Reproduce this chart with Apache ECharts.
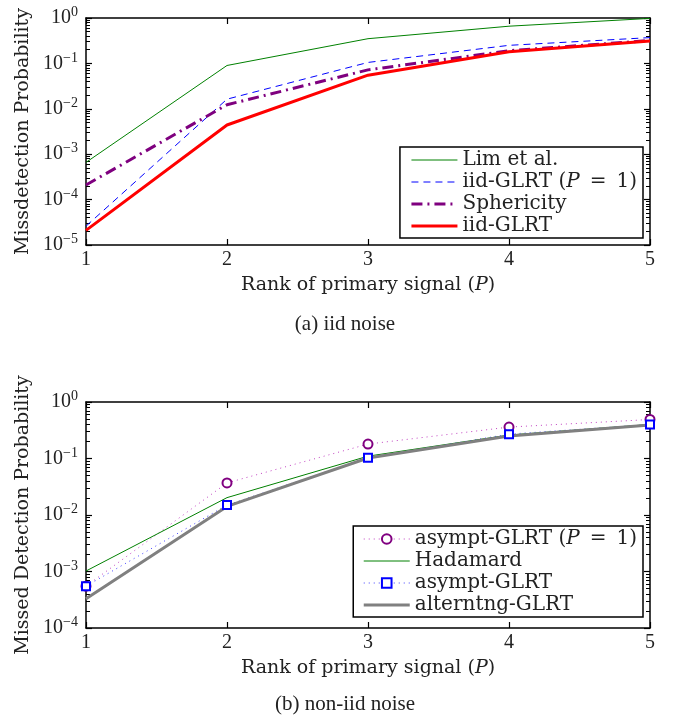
<!DOCTYPE html>
<html>
<head>
<meta charset="utf-8">
<script src="https://cdn.jsdelivr.net/npm/echarts@6/dist/echarts.min.js"></script>
<style>
html, body { margin: 0; padding: 0; background: #fff; }
#chart { width: 677px; height: 720px; }
</style>
</head>
<body>
<div id="chart"></div>
<script>
// rank of the primary signal
const ranks = [1, 2, 3, 4, 5];

// (a) iid noise
const limEtAl    = [6.6e-4, 0.090, 0.35, 0.66, 0.98];
const iidGlrtP1  = [2.6e-5, 0.0163, 0.105, 0.25, 0.37];
const sphericity = [2.1e-4, 0.0123, 0.072, 0.19, 0.32];
const iidGlrt    = [2.1e-5, 4.4e-3, 0.055, 0.18, 0.31];

// (b) non-iid noise
const asymptP1   = [5.5e-4, 0.037, 0.18, 0.36, 0.49];
const hadamard   = [1.02e-3, 0.0203, 0.11, 0.26, 0.40];
const asympt     = [5.5e-4, 0.015, 0.103, 0.27, 0.40];
const alterntng  = [3.3e-4, 0.0142, 0.102, 0.25, 0.39];

const NUM = 'Liberation Serif';   // digits
const TXT = 'DejaVu Serif';       // wide serif, closer to the LaTeX text

function pairs(vals) {
    return ranks.map((r, i) => [r, vals[i]]);
}

const rich19 = {
    n: { fontFamily: TXT, fontSize: 19, color: '#222' },
    i: { fontFamily: TXT, fontSize: 19, fontStyle: 'italic', color: '#222' }
};
const rich20 = {
    n: { fontFamily: TXT, fontSize: 20, color: '#222' },
    i: { fontFamily: TXT, fontSize: 20, fontStyle: 'italic', color: '#222' }
};
const richExp = {
    b: { fontFamily: NUM, fontSize: 20, color: '#222' },
    s: { fontFamily: NUM, fontSize: 14, color: '#222', padding: [0, 0, 11, 0] }
};

function expLabel(v) {
    const e = Math.round(Math.log10(v));
    return '{b|10}{s|' + (e < 0 ? '\u2212' + (-e) : e) + '}';
}

const grids = [
    { left: 86, top: 18, width: 564, height: 227 },
    { left: 86, top: 402, width: 564, height: 226 }
];

const frameLine = { onZero: false, lineStyle: { color: '#000', width: 1.5 } };
const majorTick = { inside: true, length: 6, lineStyle: { color: '#000', width: 1.2 } };
const minorTick = { show: true, splitNumber: 9, length: 4, lineStyle: { color: '#000', width: 1 } };

function xAxes(gi) {
    return [{
        gridIndex: gi, type: 'value', min: 1, max: 5, interval: 1, position: 'bottom',
        name: '{n|Rank of primary signal (}{i|P}{n|)}',
        nameLocation: 'middle', nameGap: 31,
        nameTextStyle: { rich: rich19 },
        axisLine: frameLine,
        axisTick: majorTick,
        axisLabel: { fontFamily: NUM, fontSize: 20, color: '#222', margin: 5 },
        splitLine: { show: false }
    }, {
        gridIndex: gi, type: 'value', min: 1, max: 5, interval: 1, position: 'top',
        axisLine: frameLine,
        axisTick: majorTick,
        axisLabel: { show: false },
        splitLine: { show: false }
    }];
}

function yAxes(gi, lo, title) {
    const base = {
        gridIndex: gi, type: 'log', logBase: 10, min: Math.pow(10, lo), max: 1,
        axisLine: frameLine,
        axisTick: majorTick,
        minorTick: minorTick,
        splitLine: { show: false },
        minorSplitLine: { show: false }
    };
    return [
        Object.assign({}, base, {
            position: 'left',
            name: title, nameLocation: 'middle', nameGap: 48,
            nameTextStyle: { fontFamily: TXT, fontSize: 19, color: '#222' },
            axisLabel: { formatter: expLabel, rich: richExp, margin: 8 }
        }),
        Object.assign({}, base, { position: 'right', axisLabel: { show: false } })
    ];
}

const noMark = { opacity: 0, color: 'rgba(0,0,0,0)', borderWidth: 0 };
const item = (name, width, mark) => ({
    name: name,
    lineStyle: { width: width },
    itemStyle: mark ? undefined : noMark
});

const legendBase = {
    orient: 'vertical',
    right: 34,
    backgroundColor: '#fff',
    borderColor: '#000',
    borderWidth: 1.5,
    borderRadius: 0,
    padding: [2, 6, 1, 10],
    itemWidth: 46,
    itemHeight: 12,
    itemGap: 0,
    textStyle: { fontFamily: TXT, fontSize: 20, lineHeight: 22, color: '#222', rich: rich20 },
    formatter: name => name.indexOf('(P = 1)') >= 0
        ? '{n|' + name.replace(' (P = 1)', '') + ' (}{i|P}{n|\u2002=\u20021)}'
        : '{n|' + name + '}'
};

const line = (name, data, xi, yi, color, width, type, extra) => Object.assign({
    name: name, type: 'line', xAxisIndex: xi, yAxisIndex: yi,
    data: pairs(data), symbol: 'none', animation: false,
    lineStyle: { color: color, width: width, type: type },
    itemStyle: { color: color }
}, extra || {});

const option = {
    animation: false,
    grid: grids,
    xAxis: xAxes(0).concat(xAxes(1)),
    yAxis: yAxes(0, -5, 'Missdetection Probability').concat(yAxes(1, -4, 'Missed Detection Probability')),
    legend: [
        Object.assign({}, legendBase, {
            top: 147,
            data: [
                item('Lim et al.', 1),
                item('iid-GLRT (P = 1)', 1),
                item('Sphericity', 3),
                item('iid-GLRT', 3)
            ]
        }),
        Object.assign({}, legendBase, {
            top: 526,
            padding: [2, 6, 1, 9],
            data: [
                item('asympt-GLRT (P = 1)', 1, true),
                item('Hadamard', 1),
                item('asympt-GLRT', 1, true),
                item('alterntng-GLRT', 3)
            ]
        })
    ],
    series: [
        line('Lim et al.', limEtAl, 0, 0, '#008000', 1, 'solid'),
        line('iid-GLRT (P = 1)', iidGlrtP1, 0, 0, '#0000ff', 1, [7, 5]),
        line('Sphericity', sphericity, 0, 0, '#7f007f', 3, [11, 5, 2, 5]),
        line('iid-GLRT', iidGlrt, 0, 0, '#ff0000', 3, 'solid'),

        line('asympt-GLRT (P = 1)', asymptP1, 2, 2, '#c040c0', 1, [1, 4], {
            symbol: 'emptyCircle', symbolSize: 9,
            itemStyle: { color: '#800080', borderWidth: 1.5 }
        }),
        line('Hadamard', hadamard, 2, 2, '#008000', 1, 'solid'),
        line('asympt-GLRT', asympt, 2, 2, '#4040ff', 1, [1, 4], {
            symbol: 'emptyRect', symbolSize: 8,
            itemStyle: { color: '#0000ff', borderWidth: 1.5 }
        }),
        line('alterntng-GLRT', alterntng, 2, 2, '#808080', 3, 'solid')
    ],
    graphic: [
        { type: 'text', x: 345, y: 324, style: { text: '(a) iid noise', font: '21px "Liberation Serif"', fill: '#222', align: 'center', verticalAlign: 'middle' } },
        { type: 'text', x: 345, y: 704, style: { text: '(b) non-iid noise', font: '21px "Liberation Serif"', fill: '#222', align: 'center', verticalAlign: 'middle' } }
    ]
};

const myChart = echarts.init(document.getElementById('chart'));
myChart.setOption(option);
</script>
</body>
</html>
